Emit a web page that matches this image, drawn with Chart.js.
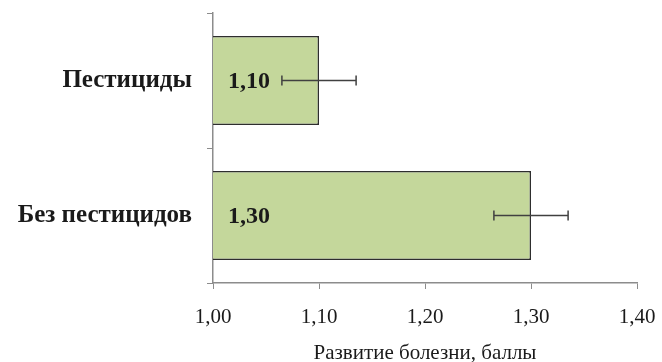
<!DOCTYPE html>
<html>
<head>
<meta charset="utf-8">
<script src="https://cdn.jsdelivr.net/npm/chart.js@4"></script>
<style>
  html, body { margin: 0; padding: 0; background: #fff; }
  #wrap { width: 662px; height: 362px; }
</style>
</head>
<body>
<div id="wrap"><canvas id="grafico" width="662" height="362"></canvas></div>
<script>
const categorias = ['Пестициды', 'Без пестицидов'];
const valores = [1.10, 1.30];
const erros = [0.035, 0.035];
const rotulos = ['1,10', '1,30'];
const ticksX = [1.00, 1.10, 1.20, 1.30, 1.40];

const fonteSerif = "'Liberation Serif', 'DejaVu Serif', serif";

// barras de erro + rotulos dentro das barras
const pluginErros = {
    id: 'erros',
    afterDatasetsDraw(chart) {
        const ctx = chart.ctx;
        const x = chart.scales.x;
        const meta = chart.getDatasetMeta(0);
        ctx.save();
        meta.data.forEach((bar, i) => {
            const y = bar.y;
            const x1 = x.getPixelForValue(valores[i] - erros[i]);
            const x2 = x.getPixelForValue(valores[i] + erros[i]);
            ctx.strokeStyle = '#404040';
            ctx.lineWidth = 1.5;
            ctx.beginPath();
            ctx.moveTo(x1, y); ctx.lineTo(x2, y);
            ctx.moveTo(x1, y - 5); ctx.lineTo(x1, y + 5);
            ctx.moveTo(x2, y - 5); ctx.lineTo(x2, y + 5);
            ctx.stroke();

            ctx.fillStyle = '#1a1a1a';
            ctx.font = 'bold 24px ' + fonteSerif;
            ctx.textAlign = 'left';
            ctx.textBaseline = 'middle';
            ctx.fillText(rotulos[i], x.left + 15, y + 1);
        });
        ctx.restore();
    }
};

new Chart(document.getElementById('grafico'), {
    type: 'bar',
    data: {
        labels: categorias,
        datasets: [{
            data: valores,
            backgroundColor: '#c4d79b',
            borderColor: '#2e2e2e',
            borderWidth: 1.5,
            borderSkipped: false,
            barPercentage: 0.66,
            categoryPercentage: 1
        }]
    },
    options: {
        indexAxis: 'y',
        responsive: false,
        animation: false,
        layout: { padding: { top: 13, right: 25, left: 0, bottom: 0 } },
        plugins: {
            legend: { display: false },
            tooltip: { enabled: false }
        },
        scales: {
            x: {
                min: 1.0,
                max: 1.4,
                afterBuildTicks(scale) {
                    scale.ticks = ticksX.map(v => ({ value: v }));
                },
                afterFit(scale) {
                    scale.height = 79;
                    scale.paddingLeft = 0;
                    scale.paddingRight = 0;
                },
                grid: {
                    drawOnChartArea: false,
                    tickLength: 6,
                    color: '#8c8c8c'
                },
                border: { color: '#8c8c8c', width: 1.5 },
                ticks: {
                    padding: 16,
                    color: '#1a1a1a',
                    font: { family: fonteSerif, size: 21 },
                    callback: v => v.toFixed(2).replace('.', ',')
                },
                title: {
                    display: true,
                    text: 'Развитие болезни, баллы',
                    color: '#1a1a1a',
                    font: { family: fonteSerif, size: 21, lineHeight: 0.8 },
                    padding: { top: 0, bottom: 0 }
                }
            },
            y: {
                afterFit(scale) {
                    scale.width = 213;
                    scale.paddingTop = 0;
                    scale.paddingBottom = 0;
                },
                grid: {
                    drawOnChartArea: false,
                    offset: true,
                    tickLength: 6,
                    color: '#8c8c8c'
                },
                border: { color: '#8c8c8c', width: 1.5 },
                ticks: {
                    padding: 15,
                    color: '#1a1a1a',
                    font: { family: fonteSerif, size: 25, weight: 'bold' }
                }
            }
        }
    },
    plugins: [pluginErros]
});
</script>
</body>
</html>
